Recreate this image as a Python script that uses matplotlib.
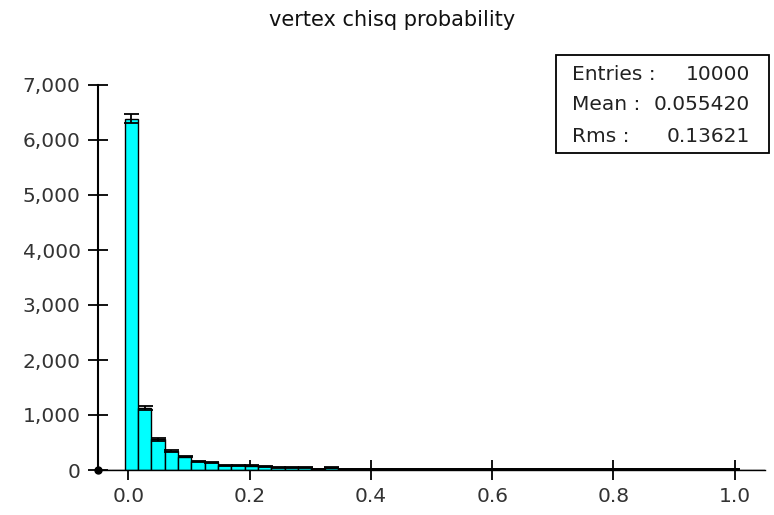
import numpy as np
import matplotlib
matplotlib.use("Agg")
import matplotlib.pyplot as plt
from matplotlib.ticker import FuncFormatter, FixedLocator
from matplotlib.patches import Rectangle

plt.rcParams['font.family'] = ['DejaVu Sans']

# ---- data ----
title = "vertex chisq probability"
bin_lo, bin_hi, n_bins = -0.05, 1.05, 50
counts = [0, 0, 6385, 1127, 560, 350, 245, 158, 142, 90,
          82, 78, 72, 50, 48, 46, 20, 45, 18, 16,
          17, 15, 18, 16, 14, 17, 16, 15, 18, 14,
          16, 17, 15, 16, 14, 17, 16, 15, 16, 18,
          14, 16, 15, 17, 16, 14, 16, 15, 0, 0]
x_ticks = [0.0, 0.2, 0.4, 0.6, 0.8, 1.0]
y_ticks = [0, 1000, 2000, 3000, 4000, 5000, 6000, 7000]
stats_labels = ["Entries :", "Mean :", "Rms :"]
stats_values = ["10000", "0.055420", "0.13621"]

W, H = 774, 515
fig = plt.figure(figsize=(W / 100, H / 100), dpi=100)
ax = fig.add_axes([98 / W, (H - 470) / H, (765 - 98) / W, (470 - 85) / H])

edges = np.linspace(bin_lo, bin_hi, n_bins + 1)
centers = 0.5 * (edges[:-1] + edges[1:])
width = edges[1] - edges[0]
cnt = np.array(counts, dtype=float)

ax.bar(centers, cnt, width=width, color='#00FFFF', edgecolor='black',
       linewidth=1.0, zorder=2)
mask = cnt > 0
ax.errorbar(centers[mask], cnt[mask], yerr=np.sqrt(cnt[mask]), fmt='none',
            ecolor='black', elinewidth=1.3, capsize=5.4, capthick=1.3, zorder=3)

ax.set_xlim(bin_lo, bin_hi)
ax.set_ylim(0, 7000)

for s in ['top', 'right']:
    ax.spines[s].set_visible(False)
ax.spines['left'].set_linewidth(1.5)
ax.spines['bottom'].set_linewidth(1.0)
ax.spines['left'].set_bounds(0, 7000)

ax.xaxis.set_major_locator(FixedLocator(x_ticks))
ax.yaxis.set_major_locator(FixedLocator(y_ticks))
ax.xaxis.set_major_formatter(FuncFormatter(lambda v, p: f"{v:.1f}"))
ax.yaxis.set_major_formatter(FuncFormatter(lambda v, p: f"{v:,.0f}"))
ax.tick_params(axis='both', direction='inout', length=15, width=1.3,
               labelsize=14.5, colors='black')
ax.tick_params(axis='y', pad=5)
ax.tick_params(axis='x', pad=5)
for lbl in ax.get_xticklabels() + ax.get_yticklabels():
    lbl.set_color('#333333')

ax.plot([ax.get_xlim()[0]], [0], marker='o', color='black', markersize=5,
        clip_on=False, zorder=5)

fig.text(392 / W, 1 - 20 / H, title, ha='center', va='center',
         fontsize=15, color='#111111')

# stats box
fig.patches.append(Rectangle((556 / W, 1 - 153 / H), (769 - 556) / W,
                             (153 - 55) / H, transform=fig.transFigure,
                             facecolor='white', edgecolor='black',
                             linewidth=1.3, zorder=10))
rows_y = [74, 105, 136]
for lab, val, yy in zip(stats_labels, stats_values, rows_y):
    fig.text(572 / W, 1 - yy / H, lab, ha='left', va='center',
             fontsize=14.5, color='#222222', zorder=11)
    fig.text(750 / W, 1 - yy / H, val, ha='right', va='center',
             fontsize=14.5, color='#222222', zorder=11)

fig.savefig("out.png", dpi=100)
